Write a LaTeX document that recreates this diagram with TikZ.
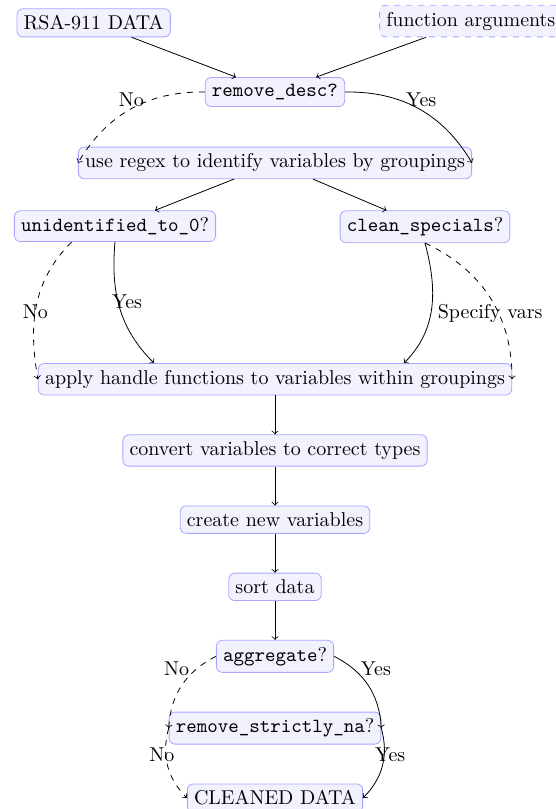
\documentclass[tikz,border=0pt]{standalone}
\usetikzlibrary{arrows,positioning}

\begin{document}
\begin{tikzpicture}[->,>=to,node distance=0.685cm]
  \tikzstyle{block}=[draw=blue!35,fill=blue!5,rounded corners=3pt,align=center]
  \useasboundingbox (-137.5pt,46pt) rectangle (140.5pt,-358.5pt);

  \node[block]        (desc)  {\texttt{remove\_desc?}};
  \node[block]        (data)  [above left=0.7cm and 0.6cm of desc] {RSA-911 DATA};
  \node[block,dashed] (args)  [above right=0.7cm and 0.6cm of desc] {function arguments};
  \node[block]        (regex) [below=0.7cm of desc] {use regex to identify variables by groupings};
  \node[block]        (unid)  [below=0.55cm of regex,xshift=-80pt] {\texttt{unidentified\_to\_0}?};
  \node[block]        (clean) [below=0.55cm of regex,xshift=75pt] {\texttt{clean\_specials}?};
  \node[block]        (apply) [below=92pt of regex] {apply handle functions to variables within groupings};
  \node[block]        (convert) [below=of apply] {convert variables to correct types};
  \node[block]        (create)  [below=of convert] {create new variables};
  \node[block]        (sort)    [below=of create] {sort data};
  \node[block]        (agg)     [below=of sort] {\texttt{aggregate}?};
  \node[block]        (strictna) [below=of agg] {\texttt{remove\_strictly\_na}?};
  \node[block]        (cleaned)  [below=of strictna] {CLEANED DATA};

  \path (data) edge (desc);
  \path (args) edge (desc);
  \path (desc.west) edge [bend right,dashed] node [pos=0.35,left] {No} (regex.west);
  \path (desc.east) edge [bend left] node [pos=0.35,right] {Yes} (regex.east);
  \path (regex) edge (unid);
  \path (regex) edge (clean);
  \path (unid.200) edge [out=-135,in=100,dashed] node [pos=0.55] {No} (apply.west);
  \path (unid.south) edge [out=-95,in=135] node [pos=0.45,xshift=4.5pt] {Yes} ([xshift=-60.5pt]apply.north);
  \path (clean.south) edge [out=-75,in=45] node [pos=0.55,right] {Specify vars} ([xshift=64.5pt]apply.north);
  \path (clean.south) edge [out=-25,in=90,dashed] (apply.east);
  \path (apply) edge (convert);
  \path (convert) edge (create);
  \path (create) edge (sort);
  \path (sort) edge (agg);
  \path (agg.west) edge [bend right,dashed] node [pos=0.25,left] {No} (strictna.west);
  \path (agg.east) edge [bend left] node [pos=0.25,right] {Yes} (strictna.east);
  \path (strictna.west) edge [bend right,dashed] node [pos=0.35,xshift=-2pt] {No} (cleaned.west);
  \path (strictna.east) edge [bend left] node [pos=0.35,xshift=3pt] {Yes} (cleaned.east);
\end{tikzpicture}
\end{document}
